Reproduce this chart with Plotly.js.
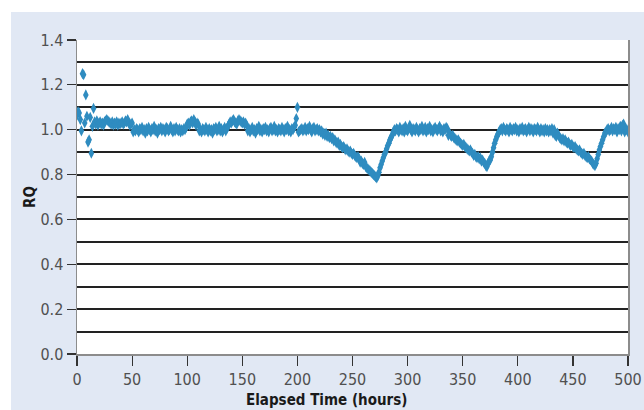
<!DOCTYPE html>
<html>
<head>
<meta charset="utf-8">
<script src="https://cdn.plot.ly/plotly-3.0.1.min.js"></script>
<style>html,body{margin:0;padding:0;background:#fff;}#chart{width:644px;height:410px;}</style>
</head>
<body>
<div id="chart"></div>
<script>
// Sampling of elapsed time (hours)
var hourStart = 0;
var hourStep = 1;

// RQ readings, one per hour (0 .. 500)
var rq = [
  1.065, 1.08, 1.075, 1.045, 0.995, 1.25, 1.245, 1.03, 1.155, 1.06,
  0.945, 0.955, 1.055, 0.895, 1.015, 1.095, 1.035, 1.025, 1.04, 1.02,
  1.03, 1.035, 1.025, 1.03, 1.02, 1.035, 1.04, 1.045, 1.04, 1.035,
  1.03, 1.025, 1.035, 1.02, 1.03, 1.025, 1.035, 1.02, 1.03, 1.025,
  1.03, 1.035, 1.025, 1.03, 1.04, 1.035, 1.045, 1.03, 1.02, 1.025,
  1.03, 0.99, 1.0, 0.995, 1.005, 1.0, 0.99, 1.005, 1.0, 1.01,
  0.995, 1.0, 0.985, 1.005, 0.995, 1.01, 1.0, 0.99, 1.005, 1.0,
  1.015, 0.995, 1.0, 0.985, 1.005, 1.0, 1.01, 0.995, 1.005, 1.0,
  0.99, 1.01, 1.005, 0.995, 1.0, 1.015, 1.0, 0.99, 1.005, 0.995,
  1.01, 1.0, 0.995, 1.005, 0.99, 1.0, 0.995, 1.005, 1.0, 1.01,
  1.025, 1.03, 1.02, 1.035, 1.04, 1.03, 1.045, 1.035, 1.02, 1.03,
  1.025, 0.995, 1.0, 0.99, 1.005, 1.0, 0.995, 1.01, 1.0, 0.99,
  1.005, 0.995, 1.0, 0.985, 1.005, 1.0, 1.01, 0.995, 1.0, 1.015,
  0.995, 1.005, 0.99, 1.0, 1.01, 0.995, 1.005, 1.015, 1.025, 1.035,
  1.03, 1.04, 1.045, 1.035, 1.03, 1.025, 1.04, 1.045, 1.04, 1.035,
  1.03, 1.035, 1.025, 1.03, 1.02, 0.995, 1.005, 0.99, 1.0, 1.01,
  0.995, 1.0, 0.985, 1.005, 1.0, 1.015, 0.995, 1.0, 0.99, 1.005,
  1.0, 1.01, 0.995, 1.0, 0.99, 1.005, 1.01, 0.995, 1.0, 1.015,
  0.995, 1.0, 0.99, 1.005, 1.0, 0.995, 1.01, 1.0, 0.99, 1.005,
  1.0, 1.015, 0.995, 1.0, 0.99, 1.005, 1.0, 1.01, 1.02, 1.05,
  1.10, 0.99, 0.995, 1.0, 1.005, 0.995, 1.0, 1.01, 0.995, 1.005,
  1.0, 1.015, 1.0, 0.99, 1.005, 1.01, 0.995, 1.0, 1.005, 0.995,
  1.0, 0.99, 0.995, 0.98, 0.985, 0.975, 0.985, 0.97, 0.975, 0.965,
  0.97, 0.96, 0.965, 0.95, 0.955, 0.945, 0.94, 0.945, 0.93, 0.935,
  0.925, 0.92, 0.925, 0.915, 0.91, 0.915, 0.905, 0.9, 0.905, 0.895,
  0.89, 0.895, 0.885, 0.88, 0.875, 0.88, 0.87, 0.855, 0.86, 0.85,
  0.845, 0.855, 0.835, 0.83, 0.825, 0.82, 0.815, 0.81, 0.805, 0.8,
  0.795, 0.79, 0.785, 0.795, 0.81, 0.83, 0.845, 0.86, 0.875, 0.89,
  0.9, 0.915, 0.93, 0.94, 0.955, 0.965, 0.975, 0.99, 1.0, 0.995,
  1.005, 1.0, 0.99, 1.01, 1.0, 0.995, 1.005, 0.99, 1.015, 1.0,
  0.995, 1.005, 1.02, 1.0, 0.99, 1.005, 1.0, 0.995, 1.01, 1.0,
  0.99, 1.005, 1.0, 1.015, 0.995, 1.0, 1.01, 0.99, 1.005, 1.0,
  1.015, 0.995, 1.0, 0.99, 1.005, 1.01, 1.0, 0.995, 1.005, 1.015,
  0.995, 1.0, 0.99, 1.005, 1.0, 1.01, 1.005, 0.975, 0.985, 0.975,
  0.97, 0.975, 0.965, 0.96, 0.955, 0.95, 0.955, 0.945, 0.94, 0.935,
  0.93, 0.935, 0.925, 0.92, 0.915, 0.91, 0.905, 0.91, 0.9, 0.895,
  0.885, 0.89, 0.88, 0.875, 0.88, 0.87, 0.875, 0.86, 0.865, 0.855,
  0.85, 0.84, 0.835, 0.85, 0.86, 0.865, 0.88, 0.9, 0.92, 0.94,
  0.955, 0.97, 0.98, 0.99, 1.0, 1.005, 0.995, 1.01, 1.0, 0.995,
  1.005, 1.0, 0.99, 1.01, 1.0, 0.995, 1.005, 1.0, 1.01, 0.995,
  1.0, 0.99, 1.005, 1.0, 1.01, 0.995, 1.0, 1.005, 0.99, 1.0,
  1.01, 0.995, 1.005, 1.0, 0.99, 1.005, 1.0, 0.995, 1.01, 1.0,
  0.99, 1.005, 0.995, 1.0, 0.99, 1.005, 0.995, 1.0, 0.99, 1.0,
  0.995, 1.005, 0.985, 1.0, 0.975, 0.97, 0.985, 0.975, 0.965, 0.96,
  0.955, 0.96, 0.95, 0.955, 0.945, 0.94, 0.945, 0.935, 0.93, 0.935,
  0.925, 0.92, 0.925, 0.915, 0.91, 0.905, 0.91, 0.9, 0.895, 0.89,
  0.895, 0.885, 0.88, 0.875, 0.88, 0.87, 0.865, 0.86, 0.85, 0.845,
  0.84, 0.85, 0.87, 0.89, 0.91, 0.925, 0.94, 0.955, 0.97, 0.985,
  0.99, 1.0, 1.005, 0.995, 1.0, 1.01, 0.995, 1.005, 1.0, 1.01,
  0.99, 1.005, 1.0, 1.015, 0.995, 1.02, 1.025, 0.99, 1.005, 1.0,
  0.99
];

var hours = rq.map(function (v, i) { return hourStart + i * hourStep; });

var xTitle = 'Elapsed Time (hours)';
var yTitle = 'RQ';

var tickFont = {family: '"DejaVu Sans Condensed", "Liberation Sans Narrow", sans-serif', size: 16, color: '#505050'};
var titleFont = {family: '"DejaVu Sans Condensed", "Liberation Sans Narrow", sans-serif', size: 15, color: '#1a1a1a'};

var trace = {
  x: hours,
  y: rq,
  type: 'scatter',
  mode: 'markers',
  marker: {symbol: 'diamond-tall', size: 8, color: '#2f8cc0', line: {width: 0}},
  hoverinfo: 'x+y'
};

var layout = {
  width: 644,
  height: 410,
  margin: {l: 77, r: 16, t: 40, b: 56},
  paper_bgcolor: '#e1e8f4',
  plot_bgcolor: '#ffffff',
  showlegend: false,
  xaxis: {
    range: [0, 500],
    tick0: 0,
    dtick: 50,
    showgrid: false,
    zeroline: false,
    showline: true,
    linecolor: '#8c8c8c',
    linewidth: 1.5,
    ticks: 'outside',
    ticklen: 10,
    tickwidth: 1.2,
    tickcolor: '#333333',
    tickfont: tickFont,
    fixedrange: true
  },
  yaxis: {
    range: [0, 1.4],
    tick0: 0,
    dtick: 0.2,
    tickformat: '.1f',
    showgrid: true,
    gridcolor: '#222222',
    gridwidth: 2,
    minor: {dtick: 0.1, showgrid: true, gridcolor: '#222222', gridwidth: 2},
    zeroline: false,
    showline: true,
    mirror: true,
    linecolor: '#8c8c8c',
    linewidth: 1.5,
    ticks: 'outside',
    ticklen: 9,
    tickwidth: 1.2,
    tickcolor: '#333333',
    tickfont: tickFont,
    fixedrange: true
  },
  shapes: [
    {type: 'rect', xref: 'paper', yref: 'paper', x0: -0.2, x1: 1.2, y0: 1.089, y1: 1.3,
     fillcolor: '#ffffff', line: {width: 0}, layer: 'below'},
    {type: 'rect', xref: 'paper', yref: 'paper', x0: -0.2, x1: -0.1198, y0: -0.3, y1: 1.3,
     fillcolor: '#ffffff', line: {width: 0}, layer: 'below'}
  ],
  annotations: [
    {text: '<b>' + xTitle + '</b>', xref: 'paper', yref: 'paper', x: 0.4537, y: -0.147,
     xanchor: 'center', yanchor: 'middle', showarrow: false, font: titleFont},
    {text: '<b>' + yTitle + '</b>', xref: 'paper', yref: 'paper', x: -0.0853, y: 0.5,
     xanchor: 'center', yanchor: 'middle', textangle: -90, showarrow: false, font: titleFont}
  ]
};

Plotly.newPlot('chart', [trace], layout, {displayModeBar: false, staticPlot: true});
</script>
</body>
</html>
